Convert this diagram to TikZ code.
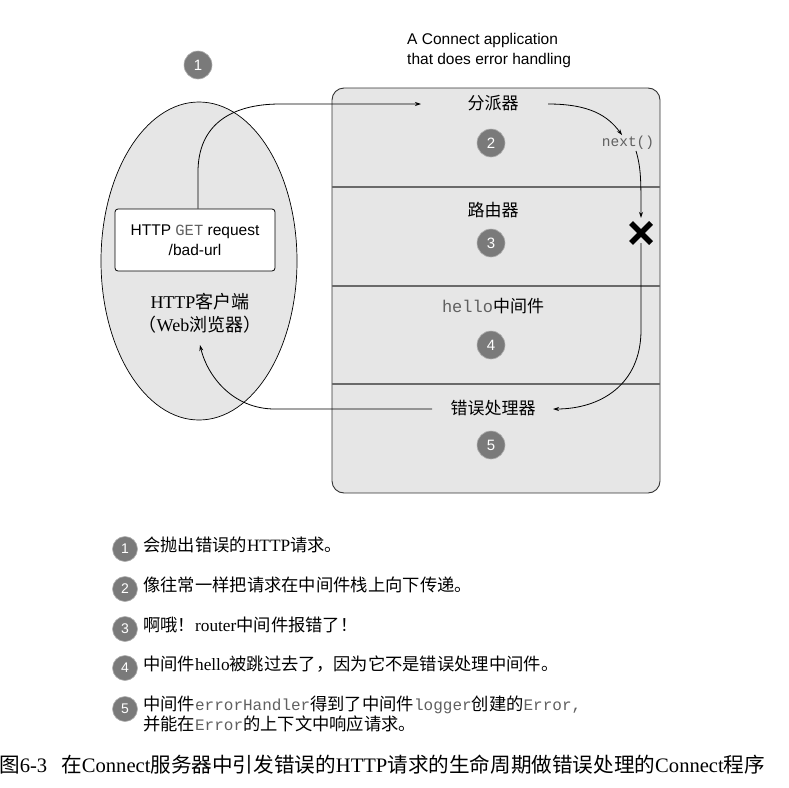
\documentclass[tikz,border=0pt]{standalone}
\usepackage{fontspec}
\setmainfont{Liberation Serif}
\setsansfont{Liberation Sans}
\setmonofont{Liberation Mono}
\newfontfamily\cjk{Noto Sans CJK SC}
\usetikzlibrary{arrows.meta,shapes.geometric}
\newcommand\zh[1]{{\cjk #1}}
\definecolor{boxgray}{HTML}{E6E6E6}
\definecolor{numgray}{HTML}{7A7A7A}
\definecolor{sepgray}{HTML}{6A6A6A}
\definecolor{codegray}{HTML}{606060}
\tikzset{
  num/.style={circle, fill=numgray, draw=numgray!60, line width=0.6pt, minimum size=28pt, inner sep=0pt,
    text=white, font=\sffamily\fontsize{15}{15}\selectfont},
  smallnum/.style={num, minimum size=25pt, font=\sffamily\fontsize{14}{14}\selectfont},
  lbl/.style={font=\fontsize{17}{17}\selectfont, inner sep=1pt},
  flow/.style={draw=black, line width=0.8pt, -{Stealth[length=6pt,width=4pt]}},
  itemtxt/.style={anchor=west, font=\fontsize{17.3}{20}\selectfont, inner sep=0pt, align=left},
  sep/.style={draw=sepgray, line width=1.4pt},
}
\begin{document}
\begin{tikzpicture}[x=1pt,y=-1pt]
\useasboundingbox (0,0) rectangle (789,787);
% client ellipse
\node[ellipse, draw=black, line width=0.7pt, fill=boxgray, minimum width=196pt, minimum height=318pt, inner sep=0pt] (client) at (199,261) {};
\node[num] (n1) at (198,65) {1};
% app box
\node[draw=black!80, line width=0.9pt, fill=boxgray, rounded corners=12pt, minimum width=328pt, minimum height=405pt, inner sep=0pt] (app) at (496,290.5) {};
\draw[sep] (app.west |- 0,187) -- (app.east |- 0,187);
\draw[sep] (app.west |- 0,286) -- (app.east |- 0,286);
\draw[sep] (app.west |- 0,384) -- (app.east |- 0,384);
\node[anchor=west, align=left, inner sep=0pt, font=\sffamily\fontsize{15.5}{20}\selectfont] (title) at (407,50) {A Connect application\\that does error handling};
% layer labels
\node[lbl] (disp) at (493,103) {\zh{分派器}};
\node[num] (n2) at (491,143) {2};
\node[font=\ttfamily\fontsize{14.5}{14.5}\selectfont, text=codegray, inner sep=1pt] (next) at (628,143) {next()};
\node[lbl] (router) at (493,210) {\zh{路由器}};
\node[num] (n3) at (491,243) {3};
\node[lbl] (hello) at (493,306) {{\ttfamily\color{codegray}hello}\zh{中间件}};
\node[num] (n4) at (491,345) {4};
\node[lbl] (err) at (493,408) {\zh{错误处理器}};
\node[num] (n5) at (491,445) {5};
% X mark
\node[minimum size=30pt, inner sep=0pt] (xm) at (641,233) {};
\draw[line width=5.5pt] (631,223) -- (651,243) (631,243) -- (651,223);
% request box
\node[draw=black, line width=0.8pt, fill=white, rounded corners=3pt, minimum width=160pt, minimum height=62pt, align=center,
  font=\sffamily\fontsize{15.5}{20}\selectfont] (req) at (195,240) {HTTP {\ttfamily\color{codegray}GET} request\\/bad-url};
\node[align=center, font=\fontsize{18}{23}\selectfont] (cl) at (200,313) {HTTP\zh{客户端}\\\zh{（}Web\zh{浏览器）}};
% connectors
\coordinate (a1) at (421,104);
\draw[flow] ([xshift=3pt]req.north) -- (198,172) .. controls (198,124) and (232,104) .. (280,104) -- (a1);
\coordinate (d1) at (548,104);
\draw[flow] (d1) .. controls (590,104) and (608,116) .. ([xshift=-6pt]next.north);
\draw[flow] ([xshift=8pt]next.south) .. controls (641,168) and (641,180) .. (xm.north);
\coordinate (e1) at (553,409);
\draw[flow] ([yshift=5pt]xm.south) -- (641,330) .. controls (641,385) and (600,409) .. (e1);
\coordinate (e2) at (432,409);
\coordinate (c1) at (200,345);
\draw[flow] (e2) -- (275,409) .. controls (232,409) and (207,375) .. (c1);
% list
\node[smallnum] (b1) at (125,549) {1};
\node[itemtxt] (t1) at (143,545) {\zh{会抛出错误的}HTTP\zh{请求。}};
\node[smallnum] (b2) at (125,589) {2};
\node[itemtxt] (t2) at (143,585) {\zh{像往常一样把请求在中间件栈上向下传递。}};
\node[smallnum] (b3) at (125,629) {3};
\node[itemtxt] (t3) at (143,625) {\zh{啊哦！}router\zh{中间件报错了！}};
\node[smallnum] (b4) at (125,668) {4};
\node[itemtxt] (t4) at (143,664) {\zh{中间件}hello\zh{被跳过去了，因为它不是错误处理中间件。}};
\node[smallnum] (b5) at (125,709) {5};
\node[itemtxt] (t5) at (143,714) {\zh{中间件}{\ttfamily\fontsize{16}{20}\selectfont\color{codegray}errorHandler}\zh{得到了中间件}{\ttfamily\fontsize{16}{20}\selectfont\color{codegray}logger}\zh{创建的}{\ttfamily\fontsize{16}{20}\selectfont\color{codegray}Error,}\\
\zh{并能在}{\ttfamily\fontsize{16}{20}\selectfont\color{codegray}Error}\zh{的上下文中响应请求。}};
% caption
\node[anchor=west, inner sep=0pt, font=\fontsize{20.6}{20.6}\selectfont] (cap) at (-1,765) {\zh{图}6-3\hspace{14pt}\zh{在}Connect\zh{服务器中引发错误的}HTTP\zh{请求的生命周期做错误处理的}Connect\zh{程序}};
\end{tikzpicture}
\end{document}
